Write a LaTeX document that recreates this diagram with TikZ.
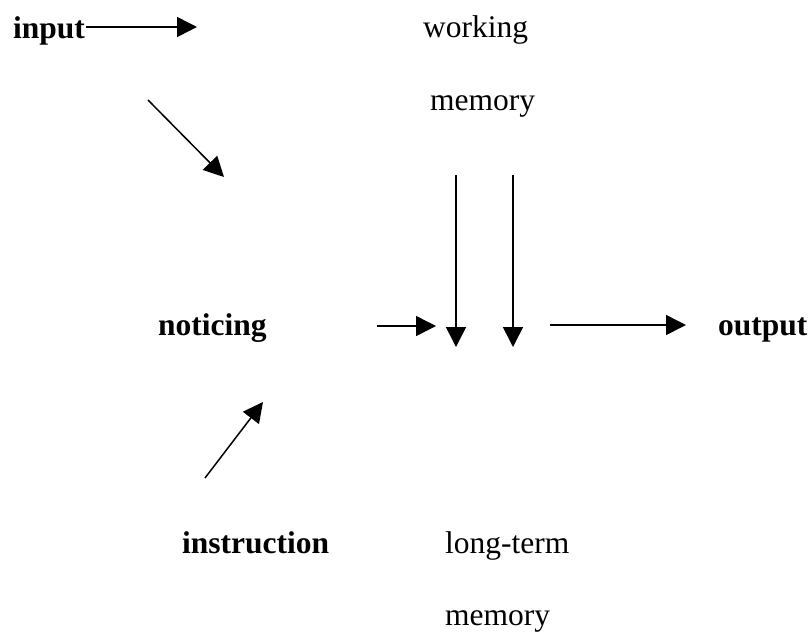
\documentclass[tikz,border=0pt]{standalone}
\usepackage{fontspec}
\setmainfont{Liberation Serif}
\usetikzlibrary{arrows.meta}
\begin{document}
\begin{tikzpicture}[x=1pt, y=-1pt,
  label/.style={inner sep=0pt, anchor=base west, font=\fontsize{31.5}{38}\selectfont},
  boldlabel/.style={label, font=\fontsize{31.5}{38}\selectfont\bfseries},
  flow/.style={line width=1.5pt, -{Triangle[length=20pt, width=20pt]}}]
\useasboundingbox (0,0) rectangle (811,633);

% text labels
\node[boldlabel] (input) at (13,38) {input};
\node[label] (wm1) at (423,37) {working};
\node[label] (wm2) at (430,110) {memory};
\node[boldlabel] (noticing) at (158,335) {noticing};
\node[boldlabel] (output) at (718,335) {output};
\node[boldlabel] (instruction) at (182,553) {instruction};
\node[label] (lt1) at (445,553) {long-term};
\node[label] (lt2) at (445,625) {memory};

% arrow end points
\coordinate (inA) at (86,27);   \coordinate (inB) at (197,27);
\coordinate (dgA) at (148,100); \coordinate (dgB) at (224,177);
\coordinate (ntA) at (377,326); \coordinate (ntB) at (436,326);
\coordinate (v1A) at (456,175); \coordinate (v1B) at (456,347);
\coordinate (v2A) at (513,175); \coordinate (v2B) at (513,347);
\coordinate (otA) at (550,325); \coordinate (otB) at (686,325);
\coordinate (isA) at (205,478); \coordinate (isB) at (263,402);

% arrows
\draw[flow] (inA) -- (inB);
\draw[flow] (dgA) -- (dgB);
\draw[flow] (ntA) -- (ntB);
\draw[flow] (v1A) -- (v1B);
\draw[flow] (v2A) -- (v2B);
\draw[flow] (otA) -- (otB);
\draw[flow] (isA) -- (isB);
\end{tikzpicture}
\end{document}
